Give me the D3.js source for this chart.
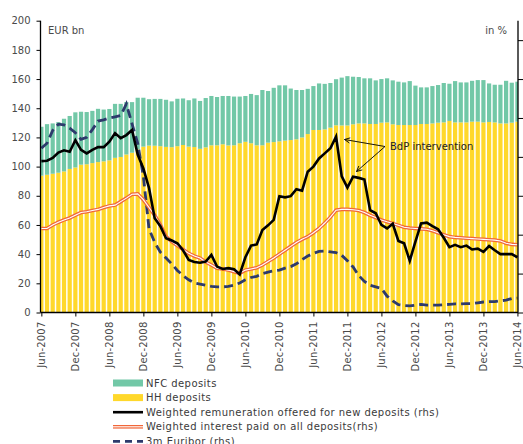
<!DOCTYPE html>
<html lang="en">
<head>
<meta charset="utf-8">
<script src="https://d3js.org/d3.v7.min.js"></script>
<style>
    body { margin: 0; background: #fff; }
    svg text { font-family: "DejaVu Sans", sans-serif; }
</style>
</head>
<body>
<svg width="523" height="444"></svg>
<script>
// monthly data, Jun-2007 .. Jun-2014 (85 months)
var hhDeposits = [93.8, 94.4, 95.1, 95.8, 96.7, 98.4, 99.4, 101.3, 101.6, 102.4, 103.1, 103.6, 104.3, 106, 106.6, 108.3, 109.5,
    111.8, 113.7, 114.4, 114.3, 114, 113.5, 113.3, 114, 114.8, 113.7, 113.4, 112.2, 113.2, 114.6, 114.6, 115.3, 114.5, 114.6,
    116, 117, 116, 114.6, 114.6, 116.4, 116.8, 117.3, 117.8, 118.2, 118.7, 120, 122.3, 125.1, 125.1, 125.5, 126.7, 128.3,
    128.2, 128.2, 129, 129.6, 129.6, 129.2, 129.2, 130.1, 130.3, 129, 128.5, 128.5, 128.5, 128.5, 129.2, 129.2, 129.6, 130.1,
    130.3, 131.3, 130.3, 130.3, 130.3, 130.8, 130.8, 130.3, 130.6, 130.3, 129.6, 129.6, 130.1, 130.8];
var nfcDeposits = [33.5, 34.7, 34.5, 34.7, 36.1, 36.3, 37.8, 36.3, 35.8, 35.8, 36.5, 35.5, 35.2, 37, 36.4, 35.9, 34.7, 35.4,
    33.5, 31.8, 32.1, 32.4, 32.3, 31.4, 32.5, 31.9, 31.8, 33.3, 32.8, 33.8, 33.8, 33.1, 33.1, 33.9, 33.4, 32, 31.4, 33.8, 34.4,
    37.9, 35.4, 37.2, 38.4, 37.9, 35.3, 33.8, 32.5, 31, 30.1, 31.9, 31.2, 30.6, 31.6, 32.8, 33.8, 32.6, 31.8, 30.9, 31.3, 29.9,
    29.9, 30.2, 30.1, 29.7, 29.2, 30.1, 27, 25.1, 25.1, 25.6, 25.8, 27, 25.5, 28.3, 27.4, 27.4, 28, 28.5, 29, 26.4, 25.8, 26.5,
    29.2, 27.4, 27.4];
var newDepositRate = [3.89, 3.9, 3.97, 4.11, 4.17, 4.13, 4.43, 4.18, 4.09, 4.18, 4.25, 4.25, 4.39, 4.61, 4.48, 4.56, 4.69,
    4.06, 3.7, 3.2, 2.42, 2.22, 1.91, 1.85, 1.78, 1.6, 1.35, 1.3, 1.28, 1.31, 1.48, 1.18, 1.12, 1.14, 1.11, 0.98, 1.42, 1.72,
    1.75, 2.12, 2.24, 2.38, 2.99, 2.96, 2.99, 3.17, 3.13, 3.62, 3.75, 3.96, 4.09, 4.22, 4.52, 3.5, 3.21, 3.49, 3.46, 3.42, 2.63,
    2.55, 2.25, 2.16, 2.28, 1.84, 1.78, 1.33, 1.82, 2.29, 2.31, 2.22, 2.14, 1.92, 1.68, 1.74, 1.68, 1.72, 1.62, 1.64, 1.56,
    1.71, 1.6, 1.5, 1.5, 1.5, 1.42];
var allDepositRate = [2.16, 2.16, 2.25, 2.32, 2.38, 2.43, 2.5, 2.57, 2.59, 2.62, 2.65, 2.7, 2.74, 2.76, 2.85, 2.94, 3.04,
    3.05, 2.9, 2.7, 2.5, 2.25, 1.95, 1.82, 1.72, 1.62, 1.52, 1.45, 1.4, 1.3, 1.22, 1.14, 1.12, 1.09, 1.05, 1.01, 1.09, 1.12,
    1.15, 1.22, 1.31, 1.4, 1.5, 1.6, 1.7, 1.8, 1.88, 1.95, 2.05, 2.16, 2.3, 2.45, 2.63, 2.65, 2.65, 2.64, 2.62, 2.57, 2.5, 2.44,
    2.38, 2.33, 2.29, 2.24, 2.19, 2.17, 2.16, 2.15, 2.14, 2.1, 2.05, 2, 1.95, 1.93, 1.92, 1.91, 1.9, 1.89, 1.88, 1.87, 1.86,
    1.84, 1.78, 1.75, 1.74];
var euribor3m = [4.22, 4.35, 4.68, 4.84, 4.82, 4.74, 4.62, 4.45, 4.5, 4.7, 4.92, 4.95, 5, 5.03, 5.06, 5.36, 4.85, 4.35, 3.5,
    2.15, 1.8, 1.55, 1.4, 1.25, 1.08, 0.95, 0.84, 0.76, 0.73, 0.7, 0.67, 0.66, 0.66, 0.67, 0.7, 0.76, 0.84, 0.9, 0.93, 1,
    1.04, 1.07, 1.09, 1.14, 1.18, 1.25, 1.36, 1.45, 1.52, 1.57, 1.58, 1.56, 1.54, 1.47, 1.33, 1.17, 0.95, 0.8, 0.7, 0.66, 0.62,
    0.42, 0.3, 0.2, 0.18, 0.17, 0.19, 0.21, 0.19, 0.19, 0.19, 0.2, 0.21, 0.22, 0.22, 0.23, 0.23, 0.25, 0.27, 0.28, 0.28, 0.3,
    0.32, 0.36, 0.37];
var tickLabels = ["Jun-2007", "Dec-2007", "Jun-2008", "Dec-2008", "Jun-2009", "Dec-2009", "Jun-2010", "Dec-2010",
    "Jun-2011", "Dec-2011", "Jun-2012", "Dec-2012", "Jun-2013", "Dec-2013", "Jun-2014"];
var leftTicks = [0, 20, 40, 60, 80, 100, 120, 140, 160, 180, 200];
var rightTicks = [0, 1, 2, 3, 4, 5, 6, 7];

var svg = d3.select("svg");
var plotL = 40.5, plotR = 518, plotT = 20.7, plotB = 312.5;

var x = d3.scaleLinear().domain([-0.15, 84.1]).range([plotL, plotR]);
var y = d3.scaleLinear().domain([0, 200]).range([plotB, plotT]);
var yr = d3.scaleLinear().domain([0, 7.5]).range([plotB, plotT]);

svg.append("defs").append("clipPath").attr("id", "plot")
    .append("rect").attr("x", plotL).attr("y", plotT).attr("width", plotR - plotL).attr("height", plotB - plotT);

var barW = 4.2;
var bars = svg.append("g").attr("clip-path", "url(#plot)");
bars.selectAll(".hh").data(hhDeposits).enter().append("rect")
    .attr("x", (d, i) => x(i) - barW / 2)
    .attr("y", d => y(d))
    .attr("width", barW)
    .attr("height", d => y(0) - y(d))
    .attr("fill", "#ffd82b");
bars.selectAll(".nfc").data(nfcDeposits).enter().append("rect")
    .attr("x", (d, i) => x(i) - barW / 2)
    .attr("y", (d, i) => y(hhDeposits[i] + d))
    .attr("width", barW)
    .attr("height", (d, i) => y(hhDeposits[i]) - y(hhDeposits[i] + d))
    .attr("fill", "#72c8a7");

var line = d3.line().x((d, i) => x(i)).y(d => yr(d));
var lines = svg.append("g");
lines.append("path").attr("d", line(euribor3m)).attr("fill", "none")
    .attr("stroke", "#2d3a6c").attr("stroke-width", 2.8).attr("stroke-dasharray", "9,5");
lines.append("path").attr("d", line(allDepositRate)).attr("fill", "none")
    .attr("stroke", "#f1673a").attr("stroke-width", 3.6);
lines.append("path").attr("d", line(allDepositRate)).attr("fill", "none")
    .attr("stroke", "#fff").attr("stroke-width", 1.1);
lines.append("path").attr("d", line(newDepositRate)).attr("fill", "none")
    .attr("stroke", "#000").attr("stroke-width", 2.6);

// axes
var axL = svg.append("g").attr("transform", `translate(${plotL},0)`)
    .call(d3.axisLeft(y).tickValues(leftTicks).tickSize(4).tickPadding(6));
var axR = svg.append("g").attr("transform", `translate(${plotR},0)`)
    .call(d3.axisRight(yr).tickValues(rightTicks).tickSize(5).tickFormat(""));
var axB = svg.append("g").attr("transform", `translate(0,${plotB})`)
    .call(d3.axisBottom(x).tickValues(d3.range(0, 85, 6)).tickSize(4).tickFormat((d, i) => tickLabels[i]));
[axL, axR, axB].forEach(a => {
    a.select(".domain").attr("stroke", "#000").attr("stroke-width", 1.3);
    a.selectAll(".tick line").attr("stroke", "#000");
    a.selectAll("text").attr("fill", "#4a4a4a").style("font-size", "10px");
});
axL.select(".domain").attr("d", `M0,${plotB}V${plotT}`);
axR.select(".domain").attr("d", `M0,${plotB}V${plotT}`);
axB.select(".domain").attr("d", `M${plotL},0H${plotR}`);
axB.selectAll("text")
    .attr("transform", "rotate(-90)")
    .attr("text-anchor", "end")
    .attr("x", -9).attr("y", 0).attr("dy", "0.35em")
    .style("letter-spacing", "0.2px");

svg.append("text").attr("x", 48).attr("y", 34).attr("fill", "#4a4a4a").style("font-size", "10px").text("EUR bn");
svg.append("text").attr("x", 507).attr("y", 34).attr("text-anchor", "end").attr("fill", "#4a4a4a")
    .style("font-size", "10px").text("in %");

// annotation
var ann = svg.append("g");
ann.append("text").attr("x", 390).attr("y", 150).attr("fill", "#222").style("font-size", "10px").text("BdP intervention");
[[344.5, 139.5], [356.5, 171.5]].forEach(function(tip) {
    var from = [385, 146.5];
    var ang = Math.atan2(from[1] - tip[1], from[0] - tip[0]);
    ann.append("line").attr("x1", from[0]).attr("y1", from[1]).attr("x2", tip[0]).attr("y2", tip[1])
        .attr("stroke", "#000").attr("stroke-width", 0.9);
    [-0.45, 0.45].forEach(function(da) {
        ann.append("line").attr("x1", tip[0]).attr("y1", tip[1])
            .attr("x2", tip[0] + 6 * Math.cos(ang + da)).attr("y2", tip[1] + 6 * Math.sin(ang + da))
            .attr("stroke", "#000").attr("stroke-width", 0.9);
    });
});

// legend
var legendItems = [
    {label: "NFC deposits", type: "rect", color: "#72c8a7"},
    {label: "HH deposits", type: "rect", color: "#ffd82b"},
    {label: "Weighted remuneration offered for new deposits (rhs)", type: "line"},
    {label: "Weighted interest paid on all deposits(rhs)", type: "double"},
    {label: "3m Euribor (rhs)", type: "dash"}
];
var lg = svg.append("g");
legendItems.forEach(function(it, k) {
    var cy = 383 + k * 14.6;
    if (it.type === "rect") {
        lg.append("rect").attr("x", 113).attr("y", cy - 3.5).attr("width", 30).attr("height", 7).attr("fill", it.color);
    } else if (it.type === "line") {
        lg.append("line").attr("x1", 113).attr("x2", 143).attr("y1", cy).attr("y2", cy).attr("stroke", "#000").attr("stroke-width", 2.6);
    } else if (it.type === "double") {
        lg.append("line").attr("x1", 113).attr("x2", 143).attr("y1", cy).attr("y2", cy).attr("stroke", "#f1673a").attr("stroke-width", 3.6);
        lg.append("line").attr("x1", 113).attr("x2", 143).attr("y1", cy).attr("y2", cy).attr("stroke", "#fff").attr("stroke-width", 1.1);
    } else {
        lg.append("line").attr("x1", 113).attr("x2", 143).attr("y1", cy).attr("y2", cy).attr("stroke", "#2d3a6c")
            .attr("stroke-width", 2.8).attr("stroke-dasharray", "7,5");
    }
    lg.append("text").attr("x", 146).attr("y", cy).attr("dy", "0.35em").attr("fill", "#3a3a3a")
        .style("font-size", "10px").style("letter-spacing", "0.45px").text(it.label);
});
</script>
</body>
</html>
